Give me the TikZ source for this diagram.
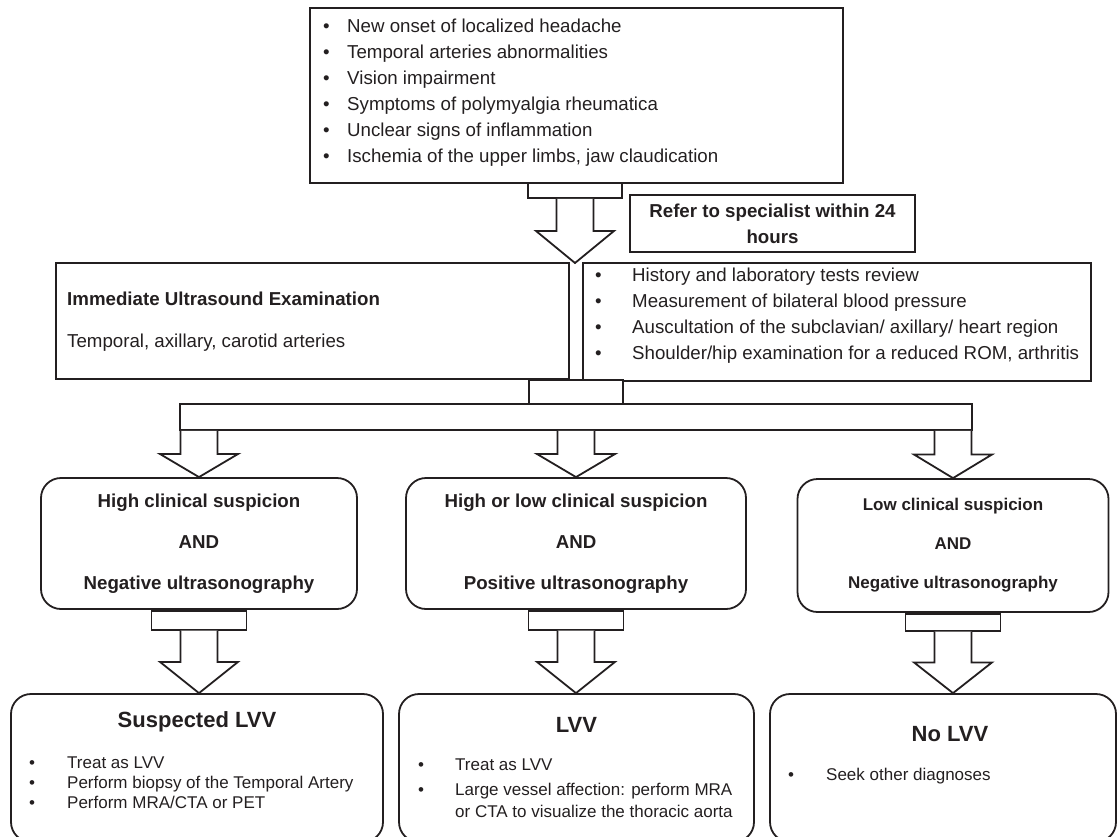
\documentclass[tikz,border=0pt]{standalone}
\usepackage{fontspec}
\setmainfont{Liberation Sans}
\usetikzlibrary{positioning, calc}
\tikzset{>=latex}
\definecolor{ink}{HTML}{231F20}
\newcommand{\txt}{\fontsize{18.7}{26}\selectfont}
\newcommand{\itm}[2]{\makebox[#1][l]{\textbullet}#2}
\newcommand{\blockarrow}[2]{%
  \draw[block_arrow] ($(#1)+(-18.5,0)$) -- ($($(#1)!0.5!(#2)$)+(-18.5,0)$) -- ($($(#1)!0.5!(#2)$)+(-39,0)$)
    -- (#2) -- ($($(#1)!0.5!(#2)$)+(39,0)$) -- ($($(#1)!0.5!(#2)$)+(18.5,0)$) -- ($(#1)+(18.5,0)$);}

\begin{document}
\begin{tikzpicture}
    [
        x=1pt, y=-1pt,
        plain_box/.style={rectangle, draw=ink, line width=1.8pt, inner sep=0pt, text=ink},
        round_box/.style={plain_box, rounded corners=20pt},
        link_box/.style={plain_box, fill=white, minimum width=95pt},
        block_arrow/.style={draw=ink, fill=white, line width=1.8pt},
        list_text/.style={anchor=north west, align=left, inner sep=0pt, text=ink},
        cond_text/.style={align=center, font=\bfseries\fontsize{18.7}{41}\selectfont},
        head_text/.style={anchor=base, inner sep=0pt, text=ink, font=\bfseries\fontsize{22}{26}\selectfont},
    ]

  \useasboundingbox (0,0) rectangle (1118,836);
  \clip (0,0) rectangle (1118,836);

  \node[plain_box, minimum width=533pt, minimum height=175pt] (symptoms) at (576.5,95.5) {};
  \node[list_text, font=\txt] (symptoms_txt) at (323,18.5) {\itm{24pt}{New onset of localized headache}\\
    \itm{24pt}{Temporal arteries abnormalities}\\ \itm{24pt}{Vision impairment}\\
    \itm{24pt}{Symptoms of polymyalgia rheumatica}\\ \itm{24pt}{Unclear signs of inflammation}\\
    \itm{24pt}{Ischemia of the upper limbs, jaw claudication}};

  \node[link_box, minimum width=94pt, minimum height=15pt] (link_top) at (575,190.5) {};
  \coordinate (split) at (575,263);
  \node[plain_box, align=center, font=\bfseries\fontsize{18.7}{26}\selectfont, minimum width=285pt, minimum height=57pt] (refer) at (772.5,223.5) {Refer to specialist within 24\\hours};

  \node[plain_box, minimum width=513pt, minimum height=116pt] (ultrasound) at (312.5,321) {};
  \node[list_text, font=\txt] (ultrasound_txt) at (67,291.5) {\textbf{Immediate Ultrasound Examination}\\[16pt]Temporal, axillary, carotid arteries};

  \node[plain_box, minimum width=508pt, minimum height=118pt] (workup) at (837,322) {};
  \node[list_text, font=\txt] (workup_txt) at (595,267.5) {\itm{37pt}{History and laboratory tests review}\\
    \itm{37pt}{Measurement of bilateral blood pressure}\\
    \itm{37pt}{Auscultation of the subclavian/ axillary/ heart region}\\
    \itm{37pt}{Shoulder/hip examination for a reduced ROM, arthritis}};

  \node[link_box, minimum width=94pt, minimum height=24pt] (link_mid) at (576,392) {};
  \node[plain_box, minimum width=792pt, minimum height=26pt] (bar) at (576,417) {};

  \node[round_box, cond_text, minimum width=316pt, minimum height=131pt] (cond1) at (199,543.5) {High clinical suspicion\\AND\\Negative ultrasonography};
  \node[round_box, cond_text, minimum width=340pt, minimum height=131pt] (cond2) at (576,543.5) {High or low clinical suspicion\\AND\\Positive ultrasonography};
  \node[round_box, cond_text, font=\bfseries\fontsize{17}{39}\selectfont, minimum width=311pt, minimum height=133pt] (cond3) at (953,545.5) {Low clinical suspicion\\AND\\Negative ultrasonography};

  \node[link_box, minimum height=19pt, below=0pt of cond1] (low1) {};
  \node[link_box, minimum height=19pt, below=0pt of cond2] (low2) {};
  \node[link_box, minimum height=17pt, below=0pt of cond3] (low3) {};

  \node[round_box, minimum width=372pt, minimum height=148pt] (bot1) at (197,768) {};
  \node[round_box, minimum width=355pt, minimum height=148pt] (bot2) at (576.5,768) {};
  \node[round_box, minimum width=346pt, minimum height=148pt] (bot3) at (943,768) {};

  \node[head_text] (bot1_title) at (197,727) {Suspected LVV};
  \node[list_text, font=\fontsize{17}{20}\selectfont] (bot1_txt) at (29,757) {\itm{38pt}{Treat as LVV}\\
    \itm{38pt}{Perform biopsy of the Temporal Artery}\\ \itm{38pt}{Perform MRA/CTA or PET}};
  \node[head_text] (bot2_title) at (576.5,732) {LVV};
  \node[list_text, font=\fontsize{17}{22}\selectfont] (bot2_txt) at (418,759) {\itm{37pt}{Treat as LVV}\\[3pt]
    \itm{37pt}{Large vessel affection: perform MRA}\\ \hspace*{37pt}or CTA to visualize the thoracic aorta};
  \node[head_text] (bot3_title) at (950,741) {No LVV};
  \node[list_text, font=\fontsize{17}{20}\selectfont] (bot3_txt) at (788,768) {\itm{38pt}{Seek other diagnoses}};

  \blockarrow{link_top.south}{split}
  \blockarrow{cond1.north |- bar.south}{cond1.north}
  \blockarrow{cond2.north |- bar.south}{cond2.north}
  \blockarrow{cond3.north |- bar.south}{cond3.north}
  \blockarrow{low1.south}{low1.south |- bot1.north}
  \blockarrow{low2.south}{low2.south |- bot2.north}
  \blockarrow{low3.south}{low3.south |- bot3.north}
\end{tikzpicture}
\end{document}
